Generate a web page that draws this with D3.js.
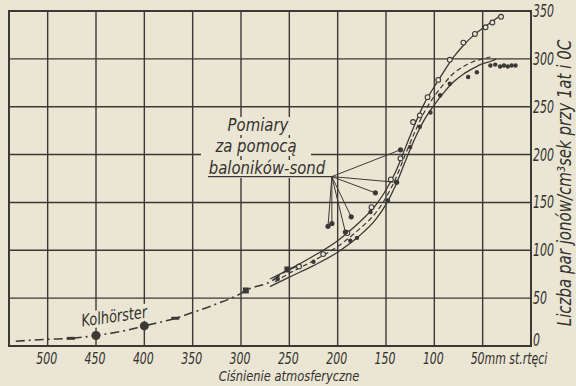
<!DOCTYPE html>
<html>
<head>
<meta charset="utf-8">
<script src="https://cdn.jsdelivr.net/npm/d3@7"></script>
<style>
  body { margin: 0; background: #ebe5d4; }
  svg { display: block; }
  text { font-family: "Liberation Sans Narrow", "DejaVu Sans Condensed", sans-serif; font-style: italic; fill: #33322e; }
</style>
</head>
<body>
<div id="chart"></div>
<script>
// pressure ticks (mm Hg) and ion-count ticks
const xTicks = [500, 450, 400, 350, 300, 250, 200, 150, 100, 50];
const yTicks = [0, 50, 100, 150, 200, 250, 300, 350];

// Kolhörster curve (dash-dot)
const kolP = [533, 500, 476, 450, 425, 400, 368, 350, 325, 300, 295, 270, 252, 240];
const kolV = [5, 7, 8, 11, 15, 21, 29, 35, 44, 55, 58, 67, 79, 84];
const kolBigDots = [[450, 11], [400, 21]];
const kolTicks = [[476, 8], [368, 29]];
const kolSquares = [[295, 58], [252, 80]];

// balloon curves
const upP = [270, 250, 225, 200, 180, 160, 150, 140, 130, 120, 110, 100, 90, 80, 70, 60, 50, 40, 32];
const upV = [70, 80, 94, 110, 127, 148, 163, 182, 207, 232, 254, 271, 287, 302, 314, 324, 332, 339, 345];
const loP = [270, 250, 225, 200, 180, 160, 150, 140, 130, 120, 110, 100, 90, 80, 70, 60, 50, 40, 36];
const loV = [62, 72, 84, 98, 113, 133, 148, 168, 193, 217, 237, 252, 265, 276, 284, 290, 295, 298, 300];
const midP = [265, 250, 225, 200, 180, 160, 150, 140, 130, 120, 110, 100, 90, 80, 70, 60, 50, 42];
const midV = [67, 76, 89, 104, 120, 140, 155, 175, 200, 224, 245, 261, 274, 285, 292, 297, 300, 302];

// measured points
const openPts = [[31, 344], [40, 338], [47, 333], [58, 326], [70, 317], [84, 299], [96, 278], [107, 260],
  [115, 241], [122, 234], [135, 196], [145, 174], [165, 145], [190, 118], [215, 96], [240, 83]];
const filledPts = [[16, 293], [20, 293], [24, 292], [28, 293], [32, 292], [37, 294], [42, 293], [56, 286],
  [65, 281], [84, 274], [94, 262], [104, 244], [115, 229], [125, 208], [148, 152], [166, 140],
  [180, 113], [187, 110], [225, 88], [262, 70]];

// leader lines of the note
const noteHub = [206, 177];
const noteTargets = [[135, 205], [139, 171], [161, 160], [186, 135], [192, 119], [206, 128], [210, 125]];

const W = 576, H = 386;
const svg = d3.select("#chart").append("svg").attr("width", W).attr("height", H);
svg.append("rect").attr("width", W).attr("height", H).attr("fill", "#ebe5d4");

const x = d3.scaleLinear().domain([540, 0]).range([9, 531]);
const y = d3.scaleLinear().domain([0, 350]).range([346, 11]);
const ink = "#3a3935";

// narrow italic text helper (the scan uses a very condensed lettering)
function label(parent, tx, ty, str, size, anchor, sx) {
  return parent.append("text")
    .attr("transform", "translate(" + tx + "," + ty + ") scale(" + (sx || 0.78) + ",1)")
    .attr("text-anchor", anchor || "middle").attr("font-size", size).text(str);
}

// grid
svg.append("g").selectAll("line").data(xTicks).enter().append("line")
  .attr("x1", d => x(d)).attr("x2", d => x(d)).attr("y1", y(350)).attr("y2", y(0))
  .attr("stroke", ink).attr("stroke-width", 1.4);
svg.append("g").selectAll("line").data(yTicks.slice(1, -1)).enter().append("line")
  .attr("x1", x(540)).attr("x2", x(0)).attr("y1", d => y(d)).attr("y2", d => y(d))
  .attr("stroke", ink).attr("stroke-width", 1.4);
svg.append("rect").attr("x", x(540)).attr("y", y(350))
  .attr("width", x(0) - x(540)).attr("height", y(0) - y(350))
  .attr("fill", "none").attr("stroke", ink).attr("stroke-width", 2);

// tick labels
xTicks.slice(0, -1).forEach(d => label(svg, x(d) - 1, 364, d, 16, "middle", 0.76));
label(svg, x(50) - 12, 364, "50mm st.rtęci", 16, "start", 0.76);
yTicks.forEach(d => label(svg, x(0) + 2, y(d) + (d === 0 ? 0 : 6), d, 17, "start", 0.72));

label(svg, 289, 381, "Ciśnienie atmosferyczne", 14.5, "middle", 0.88);
svg.append("text").attr("transform", "translate(571,183) rotate(-90) scale(0.88,1)").attr("text-anchor", "middle")
  .attr("font-size", 19).text("Liczba par jonów/cm³sek przy 1at i 0C");

// curves
const line = d3.line().x(d => x(d[0])).y(d => y(d[1])).curve(d3.curveMonotoneX);
const zip = (a, b) => a.map((v, i) => [v, b[i]]);
svg.append("path").attr("d", line(zip(kolP, kolV))).attr("fill", "none").attr("stroke", ink)
  .attr("stroke-width", 1.6).attr("stroke-dasharray", "9,4,2,4");
svg.append("path").attr("d", line(zip(upP, upV))).attr("fill", "none").attr("stroke", ink).attr("stroke-width", 1.3);
svg.append("path").attr("d", line(zip(loP, loV))).attr("fill", "none").attr("stroke", ink).attr("stroke-width", 1.3);
svg.append("path").attr("d", line(zip(midP, midV))).attr("fill", "none").attr("stroke", ink)
  .attr("stroke-width", 1.2).attr("stroke-dasharray", "5,3");

// markers
svg.append("g").selectAll("circle").data(kolBigDots).enter().append("circle")
  .attr("cx", d => x(d[0])).attr("cy", d => y(d[1])).attr("r", 4.5).attr("fill", ink);
svg.append("g").selectAll("line").data(kolTicks).enter().append("line")
  .attr("x1", d => x(d[0]) - 4).attr("x2", d => x(d[0]) + 4).attr("y1", d => y(d[1])).attr("y2", d => y(d[1]))
  .attr("stroke", ink).attr("stroke-width", 3);
svg.append("g").selectAll("rect").data(kolSquares).enter().append("rect")
  .attr("x", d => x(d[0]) - 3).attr("y", d => y(d[1]) - 3).attr("width", 6).attr("height", 6).attr("fill", ink);
svg.append("g").selectAll("circle").data(openPts).enter().append("circle")
  .attr("cx", d => x(d[0])).attr("cy", d => y(d[1])).attr("r", 2.4)
  .attr("fill", "#ebe5d4").attr("stroke", ink).attr("stroke-width", 1.1);
svg.append("g").selectAll("circle").data(filledPts).enter().append("circle")
  .attr("cx", d => x(d[0])).attr("cy", d => y(d[1])).attr("r", 2.2).attr("fill", ink);

// note with leader lines
svg.append("g").selectAll("line").data(noteTargets).enter().append("line")
  .attr("x1", x(noteHub[0])).attr("y1", y(noteHub[1])).attr("x2", d => x(d[0])).attr("y2", d => y(d[1]))
  .attr("stroke", ink).attr("stroke-width", 1);
svg.append("g").selectAll("circle").data(noteTargets).enter().append("circle")
  .attr("cx", d => x(d[0])).attr("cy", d => y(d[1])).attr("r", 2.6).attr("fill", ink);

const note = [["Pomiary", 258, 131], ["za pomocą", 256, 152], ["baloników-sond", 267, 174]];
note.forEach(n => {
  svg.append("rect").attr("x", n[1] - 55).attr("y", n[2] - 14).attr("width", 110).attr("height", 18)
    .attr("fill", "#ebe5d4");
});
note.forEach(n => label(svg, n[1], n[2], n[0], 18, "middle", 0.92));
svg.append("line").attr("x1", 208).attr("x2", x(noteHub[0])).attr("y1", y(noteHub[1])).attr("y2", y(noteHub[1]))
  .attr("stroke", ink).attr("stroke-width", 1.3);

// Kolhörster label
const kg = svg.append("g").attr("transform", "translate(115,322) rotate(-8)");
kg.append("rect").attr("x", -34).attr("y", -14).attr("width", 68).attr("height", 17).attr("fill", "#ebe5d4");
label(kg, 0, 0, "Kolhörster", 17, "middle", 0.85);
</script>
</body>
</html>
